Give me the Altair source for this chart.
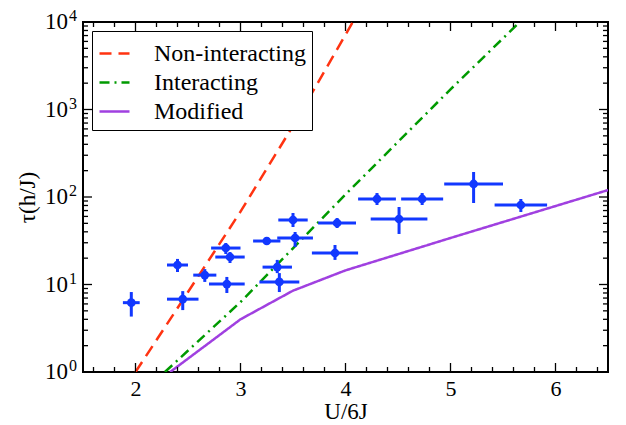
import altair as alt
import pandas as pd

FONT = "Liberation Serif"
W, H = 525, 350

# ---------------- data ----------------
series_names = ["Non-interacting", "Interacting", "Modified"]
series_colors = ["#ff3311", "#009a00", "#a040e0"]
series_dashes = [[12, 7], [10, 5, 2, 5], [1, 0]]

nonint_x = [2.0, 2.5, 3.0, 3.5, 4.07]
nonint_y = [1.0, 8.2, 68.0, 650.0, 10000.0]

inter_x = [2.28, 3.0, 4.0, 5.0, 5.66]
inter_y = [1.0, 6.3, 107.0, 1700.0, 10000.0]

mod_x = [2.33, 3.0, 3.5, 4.0, 5.0, 6.5]
mod_y = [1.0, 4.0, 8.5, 14.5, 34.0, 120.0]

pt_x = [1.96, 2.40, 2.45, 2.66, 2.86, 2.90, 2.87, 3.25, 3.50, 3.52, 3.35, 3.37, 3.92, 3.90, 4.30, 4.73, 4.51, 5.22, 5.67]
pt_y = [6.2, 16.7, 6.8, 12.8, 26.1, 20.6, 10.1, 31.4, 54.6, 34.0, 15.8, 10.7, 50.5, 22.9, 95.0, 95.0, 56.0, 141.0, 81.0]
pt_xerr = [0.08, 0.10, 0.15, 0.11, 0.14, 0.14, 0.17, 0.13, 0.14, 0.17, 0.14, 0.19, 0.18, 0.22, 0.18, 0.20, 0.27, 0.28, 0.25]
pt_ylo = [4.3, 13.9, 5.1, 10.7, 22.3, 17.6, 8.0, 28.3, 45.4, 26.8, 13.5, 8.2, 44.2, 19.1, 81.0, 81.0, 37.8, 85.4, 67.4]
pt_yhi = [8.2, 19.6, 8.4, 15.0, 29.8, 23.5, 12.2, 34.9, 65.6, 39.8, 19.1, 13.5, 57.5, 28.3, 111.0, 111.0, 76.9, 193.0, 94.9]

x_major = [2, 3, 4, 5, 6]
x_minor = [1.6, 1.8, 2.2, 2.4, 2.6, 2.8, 3.2, 3.4, 3.6, 3.8, 4.2, 4.4, 4.6, 4.8,
           5.2, 5.4, 5.6, 5.8, 6.2, 6.4]
y_major = [1, 10, 100, 1000, 10000]
y_exp = ["0", "1", "2", "3", "4"]
y_minor = [m * d for d in [1, 10, 100, 1000] for m in [2, 3, 4, 5, 6, 7, 8, 9]]

# ---------------- tables ----------------
rows = []
for name, xs_, ys_ in [(series_names[0], nonint_x, nonint_y),
                       (series_names[1], inter_x, inter_y),
                       (series_names[2], mod_x, mod_y)]:
    for a, b in zip(xs_, ys_):
        rows.append({"series": name, "x": a, "y": b})
lines_df = pd.DataFrame(rows)

pts_df = pd.DataFrame({
    "x": pt_x, "y": pt_y,
    "xlo": [a - e for a, e in zip(pt_x, pt_xerr)],
    "xhi": [a + e for a, e in zip(pt_x, pt_xerr)],
    "ylo": pt_ylo, "yhi": pt_yhi,
})

xs = alt.Scale(domain=[1.5, 6.5], nice=False, zero=False)
ys = alt.Scale(type="log", domain=[1, 10000], nice=False)

XAXIS = alt.Axis(
    values=x_major, ticks=False, domain=False, grid=False,
    labelFont=FONT, labelFontSize=22, labelColor="black", labelPadding=6,
    title="U/6J", titleFont=FONT, titleFontSize=23, titleFontWeight="normal",
    titleColor="black", titlePadding=1)
YAXIS = alt.Axis(
    labels=False, ticks=False, domain=False, grid=False,
    title="τ(h/J)", titleFont=FONT, titleFontSize=23, titleFontWeight="normal",
    titleColor="black", titlePadding=44)

legend = alt.Legend(
    title=None, orient="top-left", offset=9, fillColor="white", strokeColor="black",
    padding=6, labelFont=FONT, labelFontSize=24, labelColor="black", labelLimit=400,
    symbolType="stroke", symbolSize=900, symbolStrokeWidth=2.5, rowPadding=-3,
    labelOffset=23,
)

lines = alt.Chart(lines_df).mark_line(strokeWidth=2.5, clip=True).encode(
    x=alt.X("x:Q", scale=xs, axis=XAXIS, title="U/6J"),
    y=alt.Y("y:Q", scale=ys, axis=YAXIS, title="τ(h/J)"),
    color=alt.Color("series:N", scale=alt.Scale(domain=series_names, range=series_colors), legend=legend),
    strokeDash=alt.StrokeDash("series:N", scale=alt.Scale(domain=series_names, range=series_dashes), legend=legend),
)

BLUE = "#1238ff"
xbars = alt.Chart(pts_df).mark_rule(color=BLUE, strokeWidth=3).encode(
    x=alt.X("xlo:Q", scale=xs, axis=XAXIS, title="U/6J"), x2="xhi:Q",
    y=alt.Y("y:Q", scale=ys, axis=YAXIS, title="τ(h/J)"))
ybars = alt.Chart(pts_df).mark_rule(color=BLUE, strokeWidth=3).encode(
    x=alt.X("x:Q", scale=xs, axis=XAXIS, title="U/6J"),
    y=alt.Y("ylo:Q", scale=ys, axis=YAXIS, title="τ(h/J)"), y2="yhi:Q")
dots = alt.Chart(pts_df).mark_circle(color=BLUE, opacity=1, size=75).encode(
    x=alt.X("x:Q", scale=xs, axis=XAXIS, title="U/6J"),
    y=alt.Y("y:Q", scale=ys, axis=YAXIS, title="τ(h/J)"))


def xticks(vals, top, length):
    return alt.Chart(pd.DataFrame({"v": vals})).mark_rule(color="black", strokeWidth=1.3).encode(
        x=alt.X("v:Q", scale=xs, axis=XAXIS, title="U/6J"),
        y=alt.value(0 if top else H),
        y2=alt.value(length if top else H - length))


def yticks(vals, right, length):
    return alt.Chart(pd.DataFrame({"v": vals})).mark_rule(color="black", strokeWidth=1.3).encode(
        y=alt.Y("v:Q", scale=ys, axis=YAXIS, title="τ(h/J)"),
        x=alt.value(W if right else 0),
        x2=alt.value(W - length if right else length))


ticks = [
    xticks(x_major, False, 9), xticks(x_minor, False, 5),
    xticks(x_major, True, 9), xticks(x_minor, True, 5),
    yticks(y_major, False, 9), yticks(y_minor, False, 5),
    yticks(y_major, True, 9), yticks(y_minor, True, 5),
]

dec_df = pd.DataFrame({"v": y_major, "base": ["10"] * len(y_major), "exp": y_exp})
ylab_base = alt.Chart(dec_df).mark_text(
    align="right", baseline="middle", font=FONT, fontSize=23, color="black").encode(
    x=alt.value(-15), y=alt.Y("v:Q", scale=ys, axis=YAXIS, title="τ(h/J)"), text="base:N")
ylab_exp = alt.Chart(dec_df).mark_text(
    align="left", baseline="alphabetic", font=FONT, fontSize=16, color="black", dy=-1).encode(
    x=alt.value(-14), y=alt.Y("v:Q", scale=ys, axis=YAXIS, title="τ(h/J)"), text="exp:N")

chart = alt.layer(
    lines, xbars, ybars, dots, *ticks, ylab_base, ylab_exp
).properties(
    width=W, height=H, autosize="none",
    padding={"left": 75, "top": 14, "right": 10, "bottom": 53},
).configure(font=FONT).configure_view(stroke="black", strokeWidth=2)

chart.save("out.html", embed_options={"renderer": "svg", "actions": False})
